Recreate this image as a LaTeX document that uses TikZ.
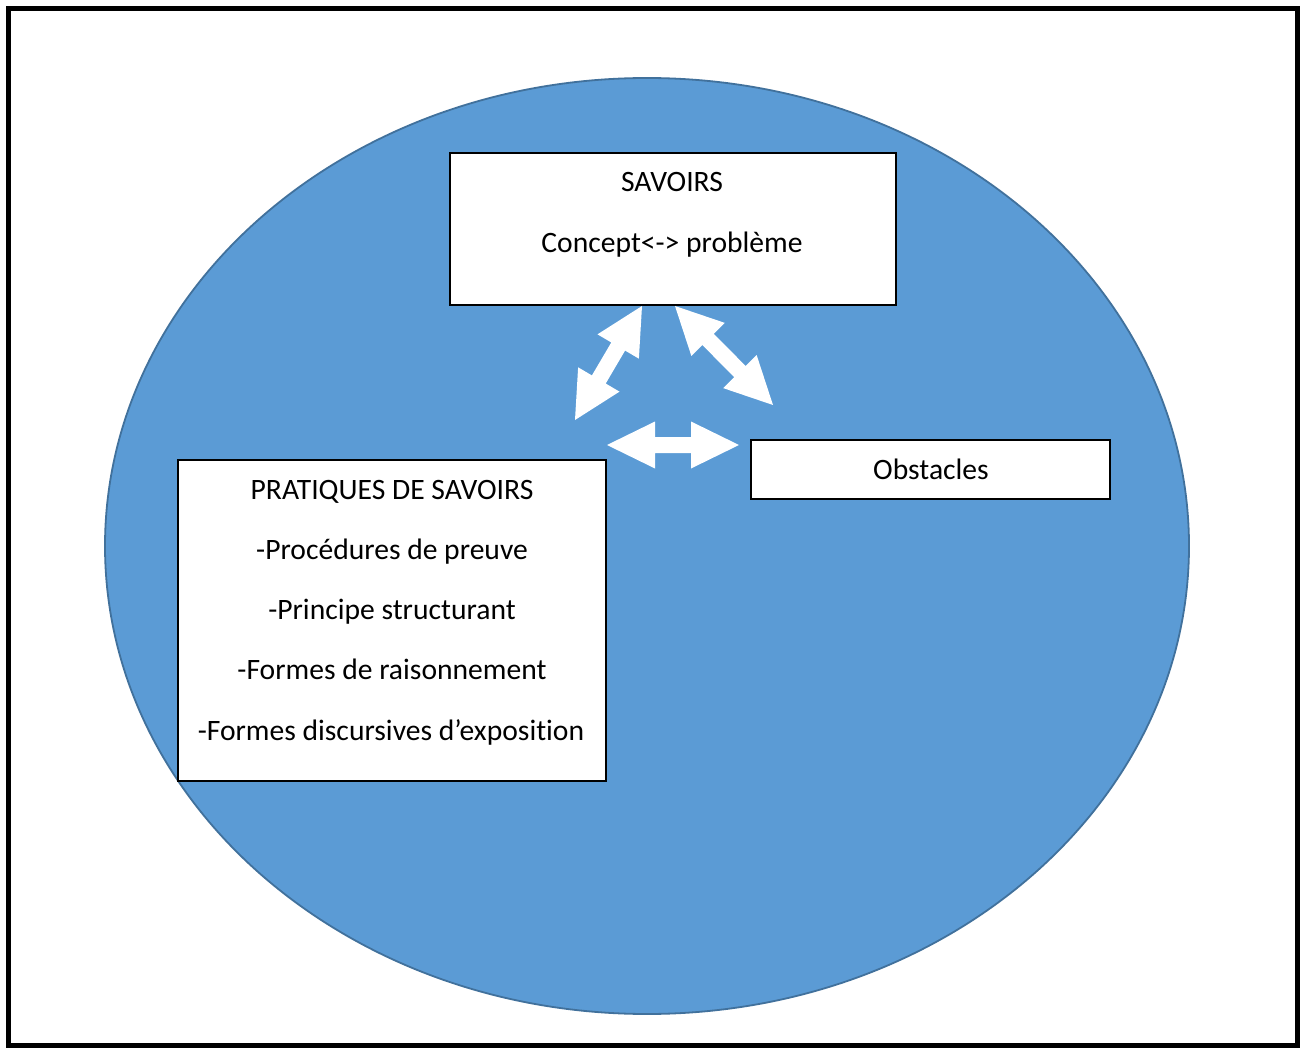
\documentclass[tikz,border=0pt]{standalone}
\usepackage{fontspec}
\setmainfont[Ligatures=NoCommon]{Carlito}
\usetikzlibrary{calc}
\definecolor{ellfill}{HTML}{5B9BD5}
\definecolor{elldraw}{HTML}{41719C}
\tikzset{
  boxstyle/.style={draw=black, line width=1.1pt, fill=white, inner sep=0pt},
  txt/.style={anchor=base, inner sep=0pt, font=\fontsize{29.6}{35}\selectfont},
  arrowfill/.style={fill=white},
}
\newcommand\dblarrow[5]{%
  \coordinate (h1) at ($(#1)!#3!(#2)$);
  \coordinate (h2) at ($(#2)!#3!(#1)$);
  \fill[arrowfill] (#1) -- ($(h1)!#4!90:(#2)$) -- ($(h1)!#5!90:(#2)$)
    -- ($(h2)!#5!-90:(#1)$) -- ($(h2)!#4!-90:(#1)$) -- (#2)
    -- ($(h2)!#4!90:(#1)$) -- ($(h2)!#5!90:(#1)$)
    -- ($(h1)!#5!-90:(#2)$) -- ($(h1)!#4!-90:(#2)$) -- cycle;
}
\begin{document}
\begin{tikzpicture}[x=1pt,y=-1pt]
\useasboundingbox (0,0) rectangle (1301,1048);
\fill[white] (0,0) rectangle (1301,1048);
\draw[line width=5pt] (8.5,8.5) rectangle (1297.5,1045.5);
% ellipse
\filldraw[fill=ellfill, draw=elldraw, line width=1.8pt] (647,546) ellipse [x radius=542, y radius=468];
% boxes
\node[boxstyle, minimum width=446, minimum height=152] (savbox) at (673,229) {};
\node[boxstyle, minimum width=359, minimum height=59] (obsbox) at (930.5,469.5) {};
\node[boxstyle, minimum width=428, minimum height=321] (pratbox) at (392,620.5) {};
% texts
\node[txt] (sav1) at (672,192) {SAVOIRS};
\node[txt] (sav2) at (672,253) {Concept<-> problème};
\node[txt] (obs1) at (931,479) {Obstacles};
\node[txt] (pr1) at (392,499) {PRATIQUES DE SAVOIRS};
\node[txt] (pr2) at (392,559) {-Procédures de preuve};
\node[txt] (pr3) at (392,619) {-Principe structurant};
\node[txt] (pr4) at (392,679) {-Formes de raisonnement};
\node[txt] (pr5) at (391,740) {-Formes discursives d’exposition};
% block arrows
\coordinate (a1s) at (642,306);
\coordinate (a1e) at (575,420);
\coordinate (a2s) at (675,306);
\coordinate (a2e) at (773,405);
\coordinate (a3s) at (607,445);
\coordinate (a3e) at (739,445);
\dblarrow{a1s}{a1e}{47pt}{24pt}{8pt}
\dblarrow{a2s}{a2e}{47pt}{23.5pt}{8pt}
\dblarrow{a3s}{a3e}{48pt}{23.5pt}{8pt}
\end{tikzpicture}
\end{document}
